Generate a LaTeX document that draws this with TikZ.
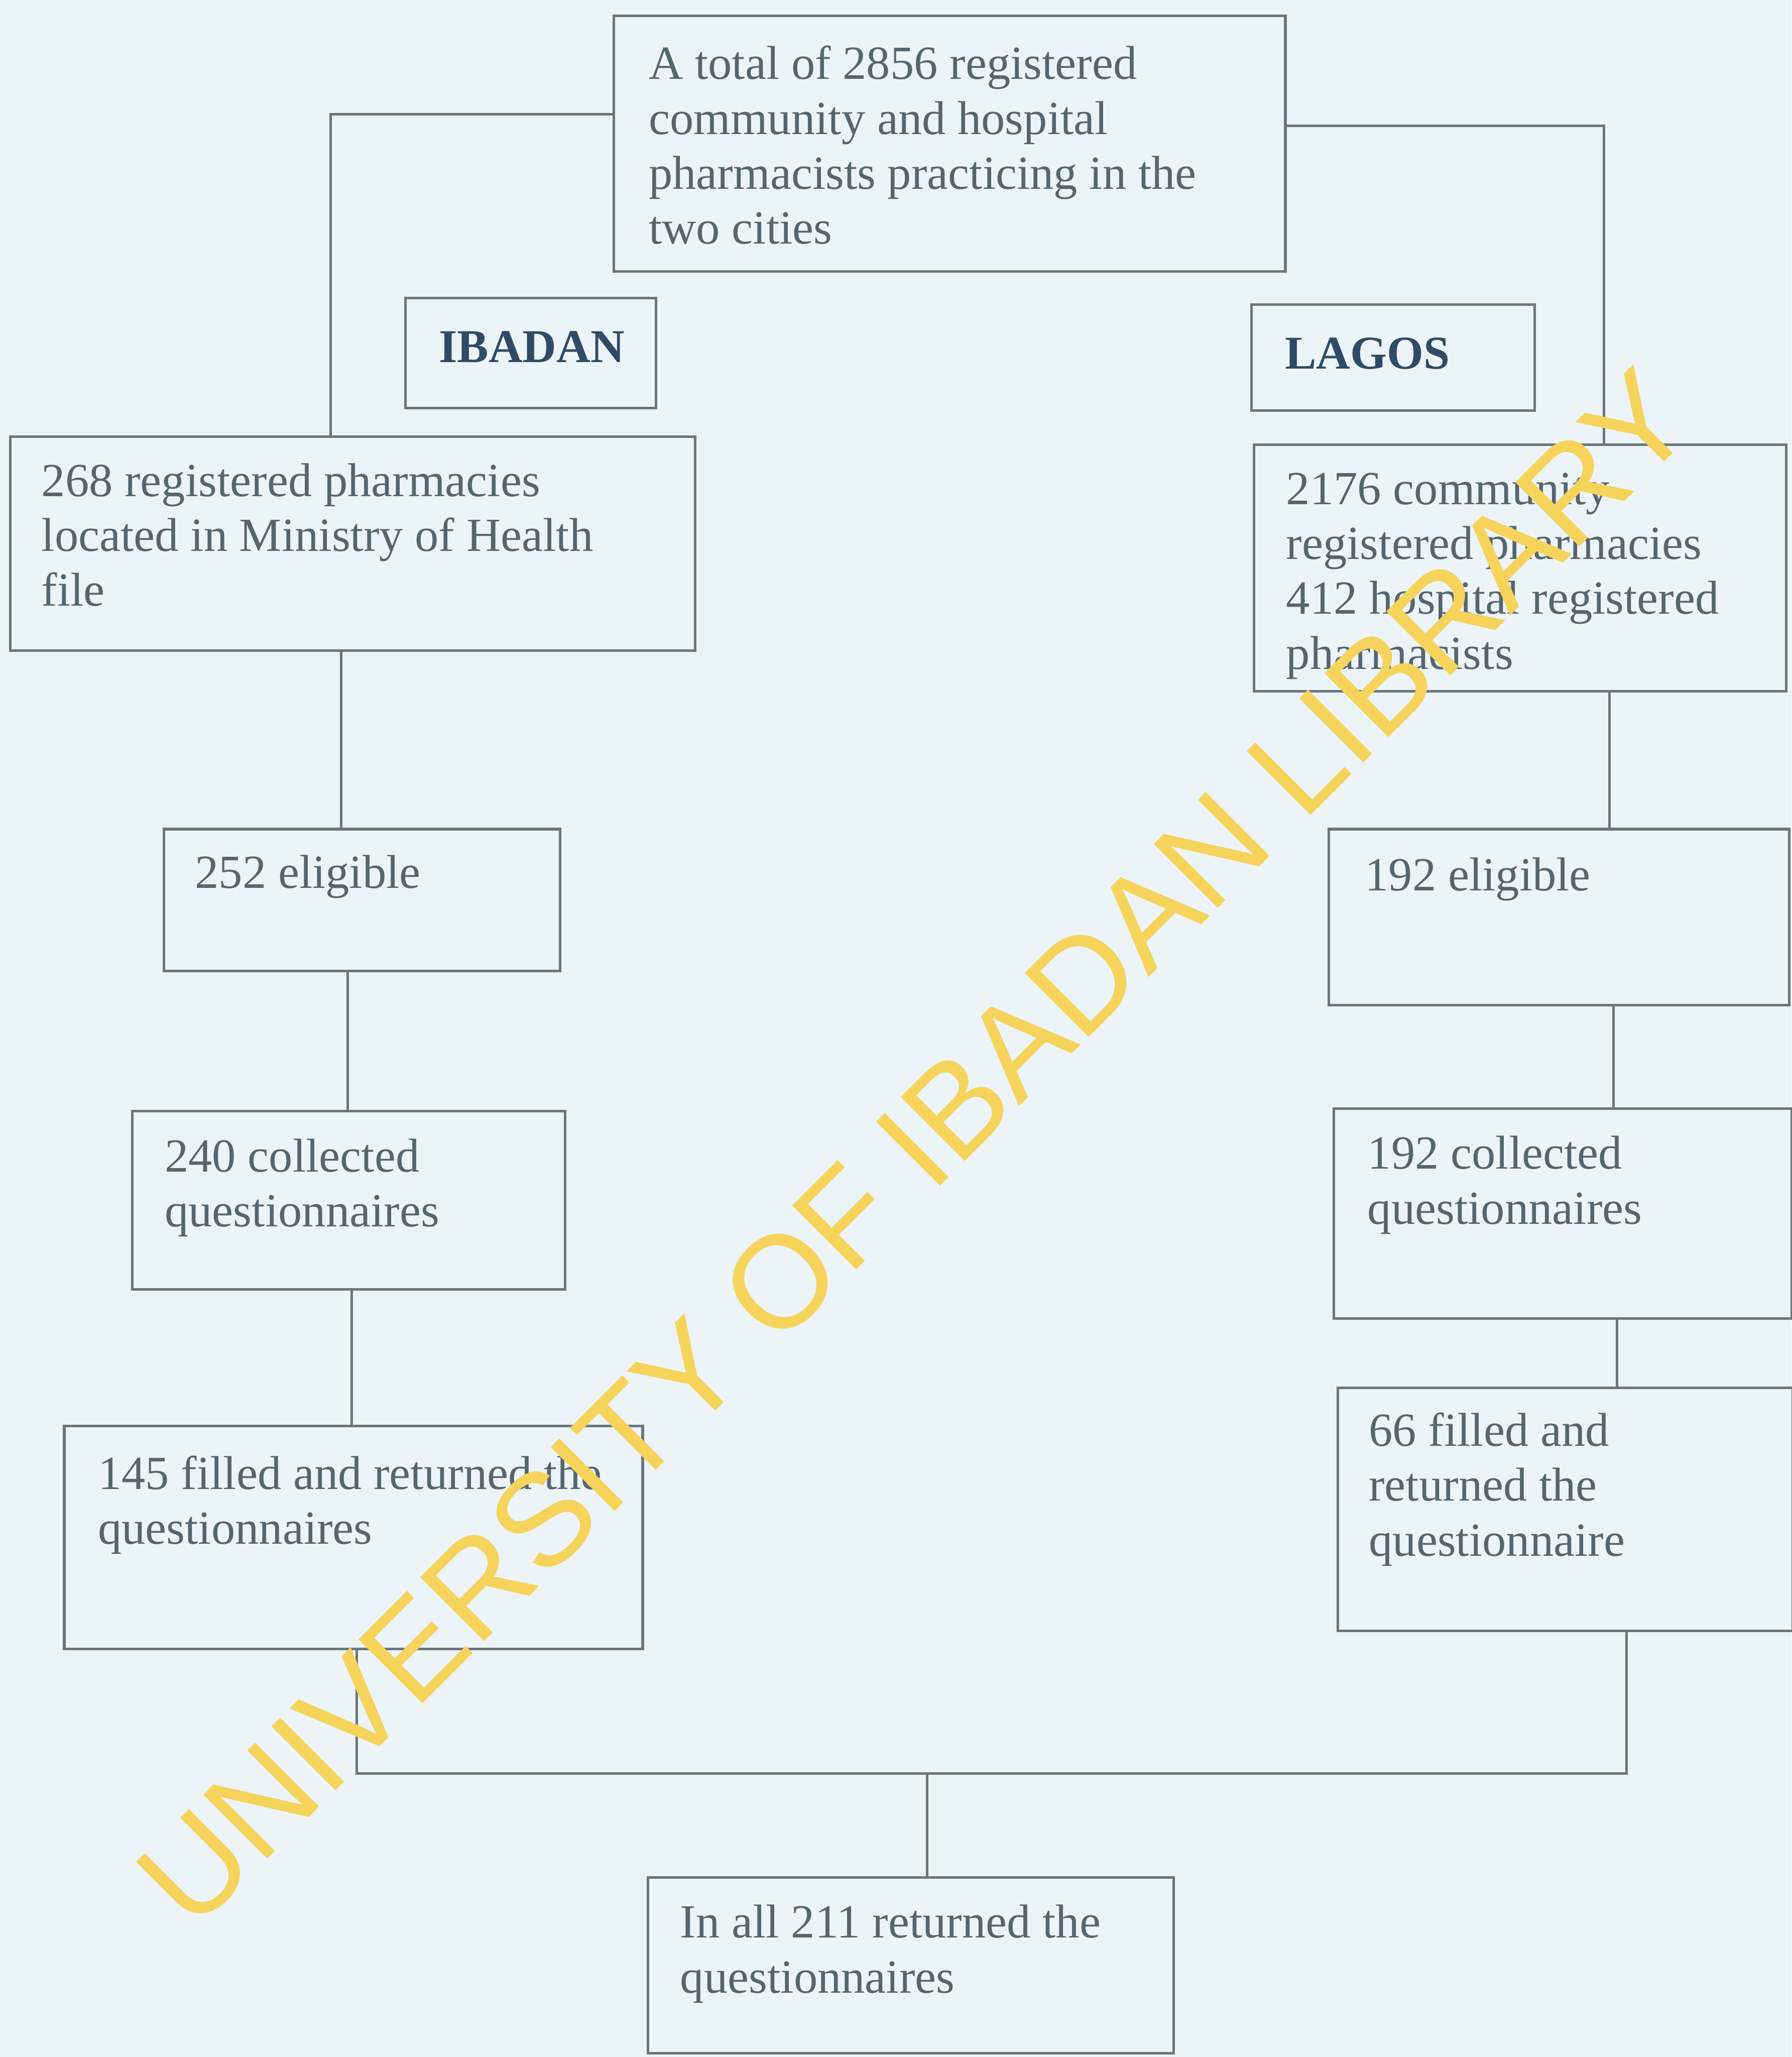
\documentclass[tikz,border=0pt]{standalone}
\usepackage{fontspec}
\setmainfont{Liberation Serif}
\newfontfamily\wmfont{Liberation Sans}
\usetikzlibrary{fit,calc}
\definecolor{bgc}{HTML}{EDF4F8}
\definecolor{linec}{HTML}{6A767D}
\definecolor{txtc}{HTML}{56666F}
\definecolor{cityc}{HTML}{2F4B66}
\definecolor{wmc}{HTML}{F6D35B}
\tikzset{
  box/.style={draw=linec, line width=0.55pt, inner sep=0pt, rectangle},
  txt/.style={anchor=base west, inner sep=0pt, align=left, text=txtc,
     font=\fontsize{10.3}{11.9}\selectfont},
  city/.style={anchor=base west, inner sep=0pt, text=cityc,
     font=\fontsize{10.2}{12}\selectfont\bfseries},
  conn/.style={draw=linec, line width=0.55pt},
}
\begin{document}
\begin{tikzpicture}[x=0.01cm,y=-0.01cm]
\fill[bgc] (0,0) rectangle (1366,1568);
\useasboundingbox (0,0) rectangle (1366,1568);
% boxes
\node[box, fit={(468,12) (980,207)}] (top) {};
\node[box, fit={(309,227) (500,311)}] (ib) {};
\node[box, fit={(954,232) (1170,313)}] (lg) {};
\node[box, fit={(8,333) (530,496)}] (L1) {};
\node[box, fit={(956,339) (1362,527)}] (R1) {};
\node[box, fit={(125,632) (427,740)}] (L2) {};
\node[box, fit={(1013,632) (1364,766)}] (R2) {};
\node[box, fit={(101,847) (431,983)}] (L3) {};
\node[box, fit={(1017,845) (1366,1005)}] (R3) {};
\node[box, fit={(49,1087) (490,1257)}] (L4) {};
\node[box, fit={(1020,1058) (1367,1243)}] (R4) {};
\node[box, fit={(494,1431) (895,1565)}] (B) {};
% texts (anchor = baseline of the last line)
\node[txt] (ttop) at (494,186) {A total of 2856 registered\\community and hospital\\pharmacists practicing in the\\two cities};
\node[city] (tib) at (334,276) {IBADAN};
\node[city] (tlg) at (979,281) {LAGOS};
\node[txt] (tL1) at (31,462) {268 registered pharmacies\\located in Ministry of Health\\file};
\node[txt] (tR1) at (980,510) {2176 community\\registered pharmacies\\412 hospital registered\\pharmacists};
\node[txt] (tL2) at (148,677) {252 eligible};
\node[txt] (tR2) at (1040,679) {192 eligible};
\node[txt] (tL3) at (125,935) {240 collected\\questionnaires};
\node[txt] (tR3) at (1042,933) {192 collected\\questionnaires};
\node[txt] (tL4) at (74,1177) {145 filled and returned the\\questionnaires};
\node[txt] (tR4) at (1043,1186) {66 filled and\\returned the\\questionnaire};
\node[txt] (tB) at (518,1519) {In all 211 returned the\\questionnaires};
% connector coordinates
\coordinate (ja) at (252,87);
\coordinate (jb) at (1223,96);
\coordinate (xa) at (260,0);
\coordinate (xb) at (265,0);
\coordinate (xc) at (268,0);
\coordinate (xd) at (1227,0);
\coordinate (xe) at (1230,0);
\coordinate (xf) at (1233,0);
\coordinate (xg) at (272,0);
\coordinate (xh) at (1240,0);
\coordinate (jc) at (707,1352);
% connectors
\draw[conn] (top.west |- ja) -| (L1.north -| ja);
\draw[conn] (top.east |- jb) -| (R1.north -| jb);
\draw[conn] (L1.south -| xa) -- (L2.north -| xa);
\draw[conn] (L2.south -| xb) -- (L3.north -| xb);
\draw[conn] (L3.south -| xc) -- (L4.north -| xc);
\draw[conn] (R1.south -| xd) -- (R2.north -| xd);
\draw[conn] (R2.south -| xe) -- (R3.north -| xe);
\draw[conn] (R3.south -| xf) -- (R4.north -| xf);
\draw[conn] (L4.south -| xg) |- (jc);
\draw[conn] (R4.south -| xh) |- (jc);
\draw[conn] (jc) -- (B.north -| jc);
% watermark
\node[rotate=45, text=wmc, font=\fontsize{28.5}{30}\wmfont] (wm) at (697,875) {UNIVERSITY OF IBADAN LIBRARY};
\end{tikzpicture}
\end{document}
